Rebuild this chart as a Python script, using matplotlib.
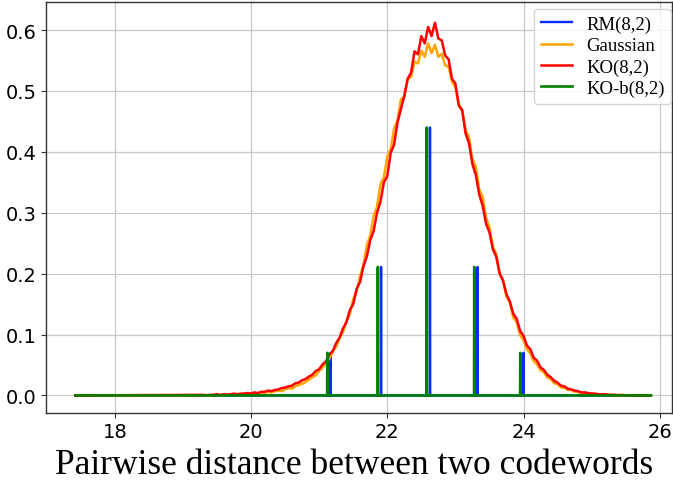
import numpy as np
import matplotlib
matplotlib.use("Agg")
import matplotlib.pyplot as plt

# ---------------- data ----------------
# histogram bin grid for the continuous curves
curve_start = 19.30
curve_step = 0.05
range_min = 17.42
range_max = 25.87

gaussian_vals = [
    0.000, 0.001, 0.000, 0.001, 0.001, 0.000, 0.001, 0.002, 0.001, 0.002,
    0.002, 0.001, 0.003, 0.002, 0.003, 0.004, 0.003, 0.005, 0.004, 0.006,
    0.005, 0.007, 0.008, 0.007, 0.010, 0.012, 0.011, 0.015, 0.017, 0.019,
    0.022, 0.026, 0.030, 0.033, 0.040, 0.046, 0.052, 0.061, 0.072, 0.080,
    0.094, 0.104, 0.122, 0.133, 0.158, 0.170, 0.196, 0.214, 0.247, 0.262,
    0.295, 0.310, 0.347, 0.358, 0.392, 0.405, 0.438, 0.452, 0.486, 0.490,
    0.520, 0.523, 0.548, 0.545, 0.566, 0.556, 0.578, 0.562, 0.576, 0.556,
    0.561, 0.542, 0.540, 0.515, 0.506, 0.478, 0.468, 0.436, 0.424, 0.388,
    0.375, 0.338, 0.326, 0.292, 0.276, 0.245, 0.232, 0.200, 0.190, 0.162,
    0.153, 0.128, 0.120, 0.099, 0.091, 0.076, 0.069, 0.056, 0.051, 0.041,
    0.038, 0.029, 0.027, 0.020, 0.019, 0.013, 0.013, 0.009, 0.009, 0.006,
    0.006, 0.004, 0.004, 0.003, 0.003, 0.002, 0.002, 0.001, 0.002, 0.001,
    0.001, 0.000, 0.001, 0.000, 0.000,
]

ko_vals = [
    0.001, 0.000, 0.001, 0.001, 0.002, 0.001, 0.002, 0.001, 0.002, 0.003,
    0.002, 0.003, 0.003, 0.004, 0.003, 0.005, 0.004, 0.006, 0.006, 0.008,
    0.007, 0.009, 0.010, 0.012, 0.013, 0.015, 0.016, 0.020, 0.021, 0.025,
    0.027, 0.031, 0.034, 0.040, 0.043, 0.051, 0.056, 0.067, 0.073, 0.086,
    0.095, 0.110, 0.120, 0.140, 0.150, 0.175, 0.186, 0.212, 0.228, 0.255,
    0.270, 0.300, 0.318, 0.350, 0.360, 0.398, 0.412, 0.448, 0.470, 0.492,
    0.520, 0.530, 0.565, 0.560, 0.590, 0.578, 0.605, 0.590, 0.612, 0.586,
    0.583, 0.558, 0.552, 0.520, 0.512, 0.476, 0.468, 0.430, 0.414, 0.380,
    0.362, 0.330, 0.312, 0.282, 0.268, 0.240, 0.228, 0.200, 0.188, 0.166,
    0.154, 0.134, 0.126, 0.106, 0.098, 0.082, 0.076, 0.062, 0.057, 0.046,
    0.042, 0.034, 0.030, 0.024, 0.021, 0.016, 0.015, 0.011, 0.010, 0.008,
    0.007, 0.005, 0.005, 0.004, 0.003, 0.003, 0.002, 0.002, 0.002, 0.001,
    0.001, 0.001, 0.000, 0.001, 0.000,
]

# discrete distance distributions
rm_pos = [21.166, 21.909, 22.627, 23.324, 24.000]
rm_prob = [0.070, 0.211, 0.440, 0.211, 0.070]
kob_pos = [21.120, 21.862, 22.580, 23.277, 23.953]
kob_prob = [0.070, 0.211, 0.440, 0.211, 0.070]

labels = ["RM(8,2)", "Gaussian", "KO(8,2)", "KO-b(8,2)"]
colors = ["#0a2cff", "orange", "red", "green"]
xlabel = "Pairwise distance between two codewords"


def curve_xy(vals):
    x = curve_start + curve_step * np.arange(len(vals))
    x = np.concatenate([[range_min], x, [range_max]])
    y = np.concatenate([[0.0], vals, [0.0]])
    return x, y


def spike_xy(pos, prob, half=0.003):
    xs = [range_min]
    ys = [0.0]
    for p, h in zip(pos, prob):
        xs += [p - half, p, p + half]
        ys += [0.0, h, 0.0]
    xs.append(range_max)
    ys.append(0.0)
    return np.array(xs), np.array(ys)


fig = plt.figure(figsize=(6.73, 4.89), dpi=100)
ax = fig.add_axes([46 / 673, 1 - 413.5 / 489, (672 - 46) / 673, (413.5 - 3) / 489])

x, y = spike_xy(rm_pos, rm_prob)
ax.plot(x, y, color=colors[0], lw=1.7, label=labels[0])
x, y = curve_xy(gaussian_vals)
ax.plot(x, y, color=colors[1], lw=1.8, label=labels[1])
x, y = curve_xy(ko_vals)
ax.plot(x, y, color=colors[2], lw=1.8, label=labels[2])
x, y = spike_xy(kob_pos, kob_prob)
ax.plot(x, y, color=colors[3], lw=1.9, label=labels[3])

ax.set_xlim(16.99, 26.18)
ax.set_ylim(-0.028, 0.646)
ax.set_xticks([18, 20, 22, 24, 26])
ax.set_yticks([0.0, 0.1, 0.2, 0.3, 0.4, 0.5, 0.6])
ax.grid(True, color="#c8c8c8", lw=0.9)
ax.set_axisbelow(True)
ax.tick_params(labelsize=14, color="#333333", length=3.5)
for s in ax.spines.values():
    s.set_color("#333333")
    s.set_linewidth(1.0)

ax.set_xlabel(xlabel, family="Liberation Serif", fontsize=25.5, labelpad=6)
ax.xaxis.set_label_coords(0.492, -0.086)
ax.xaxis.label.set_va("top")

leg = ax.legend(loc="upper right", bbox_to_anchor=(0.9985, 0.983),
                borderaxespad=0.0,
                prop={"family": "Liberation Serif", "size": 13.5},
                labelspacing=0.22, handlelength=1.65, borderpad=0.35,
                handletextpad=0.75, framealpha=0.8, fancybox=True)
leg.get_frame().set_edgecolor("#cccccc")

fig.savefig("out.png", dpi=100)
